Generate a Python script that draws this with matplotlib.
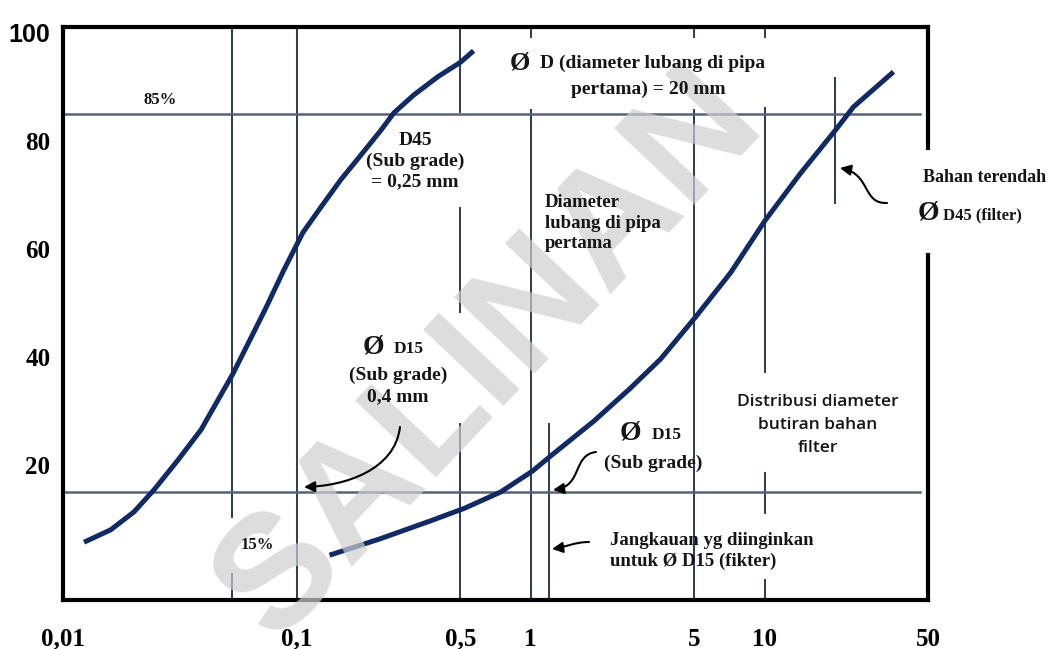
import matplotlib.pyplot as plt
from matplotlib.path import Path
from matplotlib.patches import FancyArrowPatch

# Grain size (mm) vs percent passing
subgrade_d = [0.0123, 0.016, 0.0201, 0.0245, 0.031, 0.0389, 0.0533, 0.073, 0.088,
              0.106, 0.127, 0.154, 0.188, 0.229, 0.26, 0.316, 0.401, 0.502, 0.57]
subgrade_pct = [5.7, 8.0, 11.3, 15.4, 20.9, 26.5, 36.9, 48.7, 56.1,
                63.0, 67.8, 72.8, 77.4, 82.0, 85.2, 88.5, 91.9, 94.6, 96.7]

filter_d = [0.138, 0.226, 0.37, 0.522, 0.744, 1.02, 1.22, 1.86, 2.65, 3.59,
            5.07, 7.16, 10.1, 14.3, 20.1, 24.0, 35.6]
filter_pct = [3.3, 6.3, 9.6, 12.0, 15.0, 18.9, 21.7, 28.1, 34.1, 39.6,
              47.4, 55.6, 65.4, 74.1, 82.0, 86.3, 92.8]

# vertical guide lines (diameter) and the pieces of each that are drawn
guide_d = [0.053, 0.1, 0.5, 1, 1.2, 5, 10, 20]
guide_spans = [
    [(-5, -0.2), (10.4, 101.1)],
    [(-5, 101.1)],
    [(-5, 27.5), (48.3, 67.6), (85.4, 101.1)],
    [(-5, 85.8), (99.3, 101.1)],
    [(-5, 27.6)],
    [(-5, 85.8), (99.3, 101.1)],
    [(-5, -1.3), (11.1, 18.5), (37.2, 86.1), (99.3, 101.1)],
    [(68.5, 91.7)],
]
guide_pct = [85, 15]
guide_pct_end = 46.4

xticks = [0.01, 0.1, 0.5, 1, 5, 10, 50]
xtick_labels = ["0,01", "0,1", "0,5", "1", "5", "10", "50"]
yticks = [20, 40, 60, 80, 100]
ytick_labels = ["20", "40", "60", "80", "100"]

W, H = 1060, 649
SERIF = "Liberation Serif"
INK = "#151515"


def px(x, y):
    return (x / W, 1 - y / H)


fig = plt.figure(figsize=(W / 100, H / 100), dpi=100)
ax = fig.add_axes([63 / W, 49 / H, 865 / W, 573 / H])
ax.set_xscale("log")
ax.set_xlim(0.01, 50)
ax.set_ylim(-5, 101.1)

# guides
for d, spans in zip(guide_d, guide_spans):
    for lo, hi in spans:
        ax.plot([d, d], [lo, hi], color="#2c3856", lw=1.4, zorder=2)
for p in guide_pct:
    ax.plot([0.01, guide_pct_end], [p, p], color="#55627e", lw=1.8, zorder=2)

# curves
for d, p in [(subgrade_d, subgrade_pct), (filter_d, filter_pct)]:
    ax.plot(d, p, color="#102a66", lw=3.6, solid_capstyle="butt",
            solid_joinstyle="round", zorder=3)

# frame, right side broken by the side note
for s in ["top", "bottom", "left"]:
    ax.spines[s].set_linewidth(3)
    ax.spines[s].set_color("black")
ax.spines["right"].set_visible(False)
frame_gap = (58.9, 78.7)
ax.plot([50, 50], [101.1, frame_gap[1]], color="black", lw=3, clip_on=False,
        solid_capstyle="projecting")
ax.plot([50, 50], [frame_gap[0], -5], color="black", lw=3, clip_on=False,
        solid_capstyle="projecting")

ax.set_xticks(xticks)
ax.set_xticklabels(xtick_labels)
ax.minorticks_off()
ax.set_yticks(yticks)
ax.set_yticklabels(ytick_labels)
ax.tick_params(length=0, labelsize=18)
ax.tick_params(axis="x", pad=20)
ax.tick_params(axis="y", pad=9)
for lab in ax.get_xticklabels() + ax.get_yticklabels():
    lab.set_fontfamily(SERIF)
    lab.set_fontweight("bold")
    lab.set_zorder(7)
ax.get_yticklabels()[-1].set_fontfamily("Liberation Sans")


def note(x, y, s, size=14, ha="center", family=SERIF, weight="bold", ls=1.25):
    fig.text(*px(x, y), s, ha=ha, va="center", fontsize=size, family=family,
             fontweight=weight, color=INK, linespacing=ls, zorder=6)


note(160, 100, "85%", 12)
note(520, 63, "Ø", 19)
note(540, 63, "D (diameter lubang di pipa", 14, ha="left")
note(648, 89, "pertama) = 20 mm", 14)
note(415, 161, "D45\n(Sub grade)\n= 0,25 mm", 14)
note(545, 223, "Diameter\nlubang di pipa\npertama", 13.5, ha="left")
note(923, 177, "Bahan terendah", 13, ha="left")
note(928, 213, "Ø", 20)
note(943, 215, "D45 (filter)", 12, ha="left")
note(373, 347, "Ø", 20)
note(394, 349, "D15", 12.5, ha="left")
note(398, 386, "(Sub grade)\n0,4 mm", 14, ls=1.3)
note(630, 433, "Ø", 20)
note(652, 435, "D15", 12.5, ha="left")
note(653, 463, "(Sub grade)", 14)
note(257, 545, "15%", 12)
note(610, 551, "Jangkauan yg diinginkan\nuntuk Ø D15 (fikter)", 13.5, ha="left", ls=1.35)
note(818, 425, "Distribusi diameter\nbutiran bahan\nfilter", 12.5,
     family="Open Sans", weight="semibold", ls=1.6)

# curved pointer arrows (cubic curves in pixel space)
arrows = [
    [(400, 427), (395, 470), (345, 486), (304, 487)],
    [(596, 452), (572, 455), (583, 486), (553, 490)],
    [(589, 542), (575, 542), (566, 547), (552, 549)],
    [(887, 203), (862, 204), (871, 174), (840, 168)],
]
for pts in arrows:
    verts = [px(x, y) for x, y in pts]
    path = Path(verts, [Path.MOVETO, Path.CURVE4, Path.CURVE4, Path.CURVE4])
    fig.add_artist(FancyArrowPatch(path=path, arrowstyle="-|>", mutation_scale=16,
                                   color="black", lw=1.5, transform=fig.transFigure,
                                   zorder=6))

# watermark
fig.text(*px(490, 355), "SALINAN", rotation=46.5, ha="center", va="center",
         fontsize=116, family="Liberation Sans", fontweight="bold",
         color="#cfcfcf", alpha=0.7, zorder=5)

fig.savefig("out.png", dpi=100)
